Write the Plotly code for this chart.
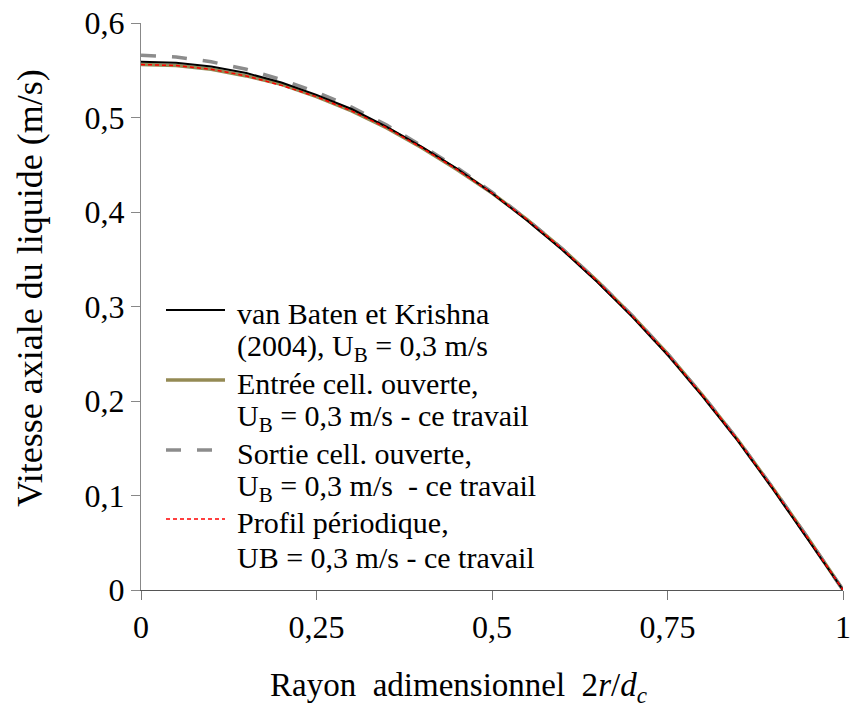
import plotly.graph_objects as go

# Dimensionless radius 2r/dc
r = [0.0, 0.05, 0.10, 0.15, 0.20, 0.25, 0.30, 0.35, 0.40, 0.45, 0.50,
     0.55, 0.60, 0.65, 0.70, 0.75, 0.80, 0.85, 0.90, 0.95, 1.00]

# Axial liquid velocity (m/s)
v_van_baten = [0.559, 0.558, 0.554, 0.547, 0.537, 0.524, 0.509, 0.490, 0.469, 0.446, 0.420,
               0.391, 0.360, 0.326, 0.289, 0.249, 0.205, 0.158, 0.107, 0.054, 0.000]
v_entree = [0.556, 0.555, 0.551, 0.544, 0.535, 0.522, 0.507, 0.489, 0.468, 0.445, 0.420,
            0.392, 0.361, 0.327, 0.290, 0.250, 0.206, 0.159, 0.108, 0.055, 0.000]
v_sortie = [0.566, 0.564, 0.559, 0.551, 0.540, 0.527, 0.511, 0.492, 0.470, 0.447, 0.421,
            0.392, 0.361, 0.327, 0.290, 0.250, 0.206, 0.159, 0.108, 0.055, 0.000]
v_periodique = [0.556, 0.555, 0.551, 0.544, 0.534, 0.522, 0.507, 0.489, 0.468, 0.445, 0.420,
                0.392, 0.361, 0.327, 0.290, 0.250, 0.206, 0.159, 0.108, 0.055, 0.000]

# Legend labels, one list of text lines per series
series_labels = [
    ["van Baten et Krishna", "(2004), U<sub>B</sub> = 0,3 m/s"],
    ["Entrée cell. ouverte,", "U<sub>B</sub> = 0,3 m/s - ce travail"],
    ["Sortie cell. ouverte,", "U<sub>B</sub> = 0,3 m/s \u00a0- ce travail"],
    ["Profil périodique,", "UB = 0,3 m/s - ce travail"],
]

x_tickvals = [0, 0.25, 0.5, 0.75, 1]
x_ticktext = ["0", "0,25", "0,5", "0,75", "1"]
y_tickvals = [0, 0.1, 0.2, 0.3, 0.4, 0.5, 0.6]
y_ticktext = ["0", "0,1", "0,2", "0,3", "0,4", "0,5", "0,6"]

x_title = "Rayon \u00a0adimensionnel \u00a02<i>r</i>/<i>d<sub>c</sub></i>"
y_title = "Vitesse axiale du liquide (m/s)"

FONT = "Liberation Serif"

styles = {
    "van": dict(color="#000000", width=2),
    "entree": dict(color="#948A54", width=3.5),
    "sortie": dict(color="#8C8C8C", width=3.5, dash="15px,16px"),
    "period": dict(color="#FF0000", width=1.5, dash="4px,3px"),
}

fig = go.Figure()
# drawing order: thick lines underneath, thin ones on top
fig.add_trace(go.Scatter(x=r, y=v_entree, mode="lines", line=styles["entree"],
                         name=" ".join(series_labels[1]), showlegend=False))
fig.add_trace(go.Scatter(x=r, y=v_sortie, mode="lines", line=styles["sortie"],
                         name=" ".join(series_labels[2]), showlegend=False))
fig.add_trace(go.Scatter(x=r, y=v_van_baten, mode="lines", line=styles["van"],
                         name=" ".join(series_labels[0]), showlegend=False))
fig.add_trace(go.Scatter(x=r, y=v_periodique, mode="lines", line=styles["period"],
                         name=" ".join(series_labels[3]), showlegend=False))

# Page geometry (pixels) used to place the hand-built legend and titles
W, H = 851, 709
L, R, T, B = 141, 8, 23, 119
pw, ph = W - L - R, H - T - B


def px(xp):
    return (xp - L) / pw


def py(yp):
    return (H - B - yp) / ph


legend_styles = [styles["van"], styles["entree"], styles["sortie"], styles["period"]]
sym_y = [310, 380, 450, 519]
line_gap = 35
for lines, st, sy in zip(series_labels, legend_styles, sym_y):
    fig.add_shape(type="line", xref="paper", yref="paper",
                  x0=px(166), x1=px(225), y0=py(sy), y1=py(sy),
                  line=st)
    for k, txt in enumerate(lines):
        fig.add_annotation(xref="paper", yref="paper", x=px(235), y=py(sy + 3 + k * line_gap),
                           xanchor="left", yanchor="middle", align="left",
                           text=txt, showarrow=False,
                           font=dict(family=FONT, size=30, color="#000000"))

# Axis titles
fig.add_annotation(xref="paper", yref="paper", x=px(458), y=py(688),
                   xanchor="center", yanchor="middle", text=x_title, showarrow=False,
                   font=dict(family=FONT, size=33, color="#000000"))
fig.add_annotation(xref="paper", yref="paper", x=px(30), y=py(288),
                   xanchor="center", yanchor="middle", textangle=-90,
                   text=y_title, showarrow=False,
                   font=dict(family=FONT, size=36, color="#000000"))

fig.update_layout(
    width=W, height=H,
    margin=dict(l=L, r=R, t=T, b=B, pad=0, autoexpand=False),
    paper_bgcolor="white", plot_bgcolor="white",
    font=dict(family=FONT, color="#000000"),
    showlegend=False,
)
fig.update_xaxes(
    range=[0, 1.000001], tickvals=x_tickvals, ticktext=x_ticktext,
    ticklabeloverflow="allow", automargin=False,
    showgrid=False, zeroline=False, showline=True, linecolor="#555555", linewidth=1,
    ticks="outside", ticklen=9, tickcolor="#777777", tickwidth=1,
    tickfont=dict(family=FONT, size=32, color="#000000"),
)
fig.update_yaxes(
    range=[0, 0.6], tickvals=y_tickvals, ticktext=y_ticktext, automargin=False,
    showgrid=False, zeroline=False, showline=True, linecolor="#888888", linewidth=1,
    ticks="outside", ticklen=9, tickcolor="#888888", tickwidth=1,
    tickfont=dict(family=FONT, size=32, color="#000000"),
)

fig.write_html("out.html")
